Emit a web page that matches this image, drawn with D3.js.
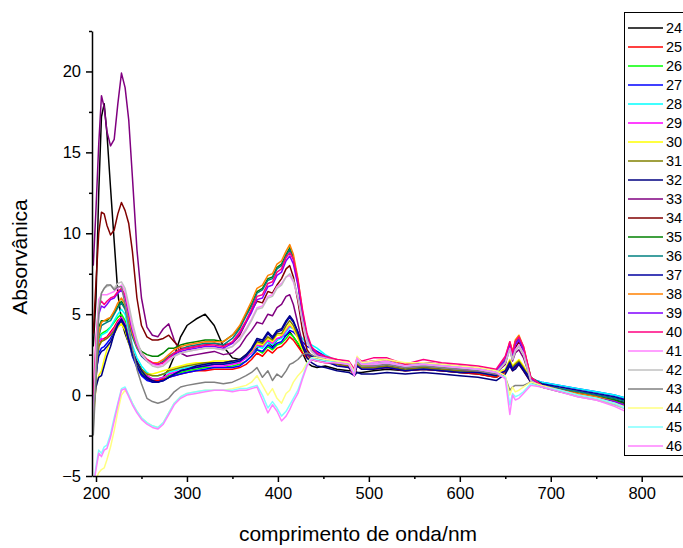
<!DOCTYPE html>
<html>
<head>
<meta charset="utf-8">
<script src="https://cdn.jsdelivr.net/npm/d3@7"></script>
<style>
  body { margin: 0; background: #fff; }
  text { font-family: "Liberation Sans", Arial, sans-serif; fill: #000; }
</style>
</head>
<body>
<svg id="chart" width="683" height="548"></svg>
<script>
// wavelength grid (nm) shared by every spectrum
const wavelengths = [197,200,203,206,209,212,216,220,224,228,232,236,240,245,250,256,262,268,274,280,
  286,293,300,310,320,330,340,350,358,365,371,377,383,389,394,399,404,409,413,417,
  422,427,432,437,443,452,465,478,484,487,492,505,520,540,560,580,600,620,640,650,
  655,658,661,665,670,678,690,710,730,750,770,790,820,850];

const seriesNames = ['24','25','26','27','28','29','30','31','32','33','34','35','36','37','38','39','40','41','42','43','44','45','46'];
const palette = ['#000000','#FF0000','#00FF00','#0000FF','#00FFFF','#FF00FF','#FFFF00','#808000','#000080','#800080','#800000','#008000','#008080','#0000A0','#FF8000','#8000FF','#FF0080','#FF80FF','#C0C0C0','#808080','#FFFF80','#80FFFF','#FF80FF'];

const s24 = [3.0,6.0,12.5,17.2,18.0,16.2,12.8,9.5,6.3,4.6,3.8,3.2,2.7,2.1,1.6,1.2,0.9,0.8,1.1,1.6,
  2.4,3.6,4.3,4.7,5.0,4.3,3.0,2.3,2.2,2.4,2.6,2.9,3.1,3.3,3.0,3.4,3.6,3.7,3.9,3.6,
  3.2,2.6,2.0,1.8,1.7,1.8,1.6,1.5,1.5,1.4,1.4,1.5,1.6,1.5,1.6,1.5,1.4,1.3,1.1,1.5,
  2.0,1.7,1.8,2.0,1.6,0.9,0.6,0.4,0.2,0.0,-0.2,-0.4,-0.7,-0.9];
const s25 = [-1.5,1.0,3.0,3.4,3.5,3.6,3.9,4.2,4.6,4.8,4.4,3.4,2.5,1.8,1.3,1.0,0.9,0.9,1.0,1.1,
  1.2,1.3,1.4,1.5,1.5,1.6,1.6,1.6,1.7,1.9,2.2,2.6,2.4,2.8,2.6,2.9,3.0,3.3,3.6,3.4,
  3.0,2.6,2.3,2.2,2.1,2.0,1.9,1.7,1.2,1.8,1.6,1.6,1.7,1.5,1.6,1.5,1.4,1.3,1.1,1.4,
  1.9,1.5,1.7,1.9,1.5,0.8,0.5,0.3,0.0,-0.2,-0.4,-0.7,-1.1,-1.4];
const s26 = [-1.0,1.6,3.5,3.8,3.9,4.0,4.2,4.5,4.8,5.0,4.6,3.6,2.7,1.9,1.4,1.1,1.0,1.0,1.1,1.2,
  1.3,1.4,1.5,1.6,1.7,1.7,1.7,1.8,1.9,2.1,2.4,2.8,2.6,3.0,2.8,3.1,3.2,3.5,3.8,3.6,
  3.2,2.8,2.5,2.4,2.3,2.2,2.0,1.8,1.3,1.9,1.7,1.7,1.8,1.6,1.7,1.6,1.5,1.4,1.2,1.5,
  2.0,1.6,1.8,2.0,1.6,0.9,0.6,0.4,0.1,-0.1,-0.3,-0.6,-1.0,-1.3];
const s27 = [-1.2,1.2,2.6,2.9,3.0,3.2,3.5,3.9,4.4,4.7,4.3,3.3,2.4,1.7,1.2,0.9,0.8,0.8,0.9,1.1,
  1.2,1.3,1.4,1.5,1.6,1.7,1.7,1.7,1.8,2.1,2.4,2.8,2.7,3.1,2.9,3.2,3.3,3.7,4.0,3.9,
  3.6,3.3,3.0,2.9,2.7,2.4,2.0,1.8,1.3,1.9,1.7,1.7,1.8,1.6,1.7,1.6,1.5,1.5,1.3,1.5,
  2.0,1.6,1.8,2.0,1.6,1.0,0.8,0.6,0.4,0.2,0.0,-0.3,-0.6,-0.9];
const s28 = [0.6,1.5,3.2,3.7,3.8,3.9,4.2,4.6,5.0,5.3,5.0,4.0,3.1,2.3,1.8,1.4,1.2,1.2,1.3,1.4,
  1.5,1.6,1.7,1.8,1.9,1.9,1.9,2.0,2.1,2.3,2.6,3.0,2.9,3.3,3.1,3.4,3.5,3.9,4.2,4.1,
  3.8,3.5,3.2,3.1,2.9,2.5,2.1,1.9,1.4,2.0,1.8,1.8,1.9,1.7,1.8,1.7,1.6,1.6,1.4,1.6,
  2.1,1.7,1.9,2.1,1.7,1.0,0.8,0.6,0.4,0.2,0.0,-0.3,-0.6,-0.9];
const s29 = [-0.8,1.8,3.3,3.5,3.4,3.5,3.8,4.1,4.5,4.8,4.4,3.5,2.7,2.0,1.5,1.2,1.0,1.0,1.1,1.3,
  1.4,1.5,1.6,1.7,1.8,1.8,1.8,1.9,2.0,2.3,2.6,3.1,3.0,3.4,3.2,3.5,3.6,4.0,4.3,4.1,
  3.6,3.0,2.6,2.4,2.3,2.1,1.9,1.8,1.3,2.0,1.7,1.8,1.9,1.7,1.8,1.7,1.6,1.5,1.3,1.5,
  2.1,1.7,1.9,2.1,1.7,0.9,0.6,0.3,0.1,-0.1,-0.4,-0.7,-1.0,-1.3];
const s30 = [-1.5,0.5,1.2,1.5,2.2,2.8,3.3,3.8,4.2,4.4,4.0,3.2,2.5,1.9,1.5,1.3,1.3,1.4,1.5,1.6,
  1.7,1.8,1.9,2.0,2.0,2.1,2.1,2.1,2.2,2.4,2.7,3.2,3.1,3.5,3.3,3.7,3.7,4.1,4.4,4.1,
  3.5,2.8,2.4,2.2,2.1,2.1,2.0,1.9,1.4,2.0,1.8,1.9,2.0,1.8,1.9,1.8,1.7,1.6,1.4,1.6,
  2.2,1.8,2.0,2.2,1.8,1.0,0.7,0.4,0.2,-0.1,-0.3,-0.7,-1.0,-1.3];
const s31 = [-1.0,1.5,3.0,3.3,3.4,3.5,3.7,4.0,4.4,4.6,4.2,3.3,2.6,2.0,1.6,1.3,1.2,1.2,1.3,1.5,
  1.6,1.7,1.8,1.9,2.0,2.0,2.0,2.1,2.2,2.5,2.8,3.3,3.2,3.6,3.4,3.8,3.8,4.3,4.6,4.3,
  3.7,3.0,2.5,2.3,2.2,2.1,1.9,1.8,1.3,1.9,1.7,1.7,1.8,1.6,1.7,1.6,1.5,1.4,1.2,1.5,
  2.1,1.7,1.9,2.1,1.7,0.9,0.6,0.4,0.1,-0.1,-0.3,-0.6,-1.0,-1.3];
const s32 = [-1.0,0.5,1.1,1.2,1.8,2.4,3.0,3.8,4.4,4.7,4.3,3.4,2.7,2.0,1.5,1.1,0.9,0.8,0.9,1.1,
  1.3,1.5,1.6,1.8,1.9,2.0,2.0,2.1,2.2,2.5,2.9,3.5,3.4,3.9,3.6,4.0,4.1,4.6,4.9,4.6,
  3.9,3.0,2.3,2.0,1.8,1.7,1.5,1.4,1.2,1.4,1.3,1.3,1.4,1.3,1.4,1.3,1.2,1.1,0.9,1.3,
  1.8,1.5,1.6,1.9,1.5,0.8,0.5,0.3,0.1,-0.1,-0.3,-0.6,-0.9,-1.2];
const s33 = [8.0,11.5,15.5,18.5,17.8,16.3,15.4,15.8,18.0,19.9,19.0,17.0,13.5,9.0,6.0,4.2,3.7,3.6,4.1,4.4,
  3.4,2.6,2.4,2.5,2.6,2.7,2.5,2.6,3.0,3.6,4.0,4.5,4.4,5.0,4.9,5.4,5.6,6.1,6.2,5.6,
  4.4,3.2,2.5,2.2,2.1,2.1,2.0,1.9,1.3,2.2,1.9,1.9,2.0,1.8,1.9,1.8,1.7,1.6,1.4,1.9,
  2.9,2.1,2.6,2.8,2.3,1.0,0.6,0.3,0.1,-0.1,-0.4,-0.7,-1.0,-1.3];
const s34 = [3.8,7.0,10.0,11.3,11.2,10.5,9.9,10.2,11.2,11.9,11.4,10.6,8.9,6.0,4.3,3.6,3.4,3.4,3.5,3.7,
  3.3,2.9,2.9,3.0,3.1,3.2,3.1,3.2,3.7,4.5,5.2,5.8,5.7,6.4,6.3,6.8,7.2,7.8,8.0,7.3,
  5.8,4.0,2.8,2.4,2.2,2.1,2.0,1.9,1.4,2.2,1.9,2.0,2.1,1.8,2.0,1.9,1.7,1.6,1.4,2.0,
  3.0,2.3,2.9,3.3,2.7,1.0,0.6,0.3,0.1,-0.1,-0.4,-0.8,-1.1,-1.4];
const s35 = [-0.5,2.0,4.2,4.6,4.6,4.6,4.8,5.1,5.5,5.8,5.4,4.6,3.8,3.1,2.7,2.5,2.4,2.4,2.6,2.9,
  2.9,3.1,3.2,3.3,3.4,3.4,3.3,3.7,4.2,5.0,5.6,6.4,6.6,7.2,7.3,7.9,8.1,8.7,9.1,8.5,
  7.0,5.0,3.5,2.8,2.4,2.2,2.1,1.9,1.5,2.2,1.9,2.0,2.1,1.8,1.9,1.8,1.7,1.6,1.4,2.2,
  3.2,2.6,3.3,3.6,2.9,1.1,0.6,0.3,0.1,-0.1,-0.3,-0.7,-1.0,-1.3];
const s36 = [-1.0,1.0,3.6,4.3,4.4,4.5,4.6,5.0,5.4,5.7,5.3,4.4,3.6,2.9,2.4,2.1,1.9,1.9,2.1,2.4,
  2.6,2.8,3.0,3.1,3.2,3.2,3.1,3.5,4.1,4.9,5.5,6.3,6.5,7.1,7.2,7.8,8.0,8.6,9.0,8.4,
  6.9,5.0,3.6,2.9,2.5,2.3,2.1,1.9,1.4,2.2,1.9,1.9,2.0,1.8,1.9,1.8,1.7,1.6,1.5,2.1,
  3.1,2.5,3.2,3.5,2.8,1.1,0.7,0.4,0.2,0.0,-0.2,-0.5,-0.8,-1.1];
const s37 = [-0.5,1.5,2.4,2.7,2.8,3.0,3.3,3.8,4.3,4.6,4.2,3.3,2.5,1.8,1.3,1.0,0.8,0.8,0.9,1.1,
  1.3,1.5,1.6,1.7,1.8,1.9,1.9,2.0,2.1,2.4,2.8,3.4,3.3,3.8,3.5,3.9,4.0,4.5,4.8,4.5,
  3.9,3.1,2.6,2.4,2.3,2.1,1.8,1.7,1.3,1.8,1.6,1.6,1.7,1.5,1.6,1.5,1.4,1.4,1.2,1.5,
  2.0,1.6,1.8,2.0,1.6,1.0,0.7,0.5,0.3,0.1,-0.1,-0.4,-0.7,-1.0];
const s38 = [-1.0,1.5,3.8,4.5,4.6,4.7,4.8,5.2,5.7,6.0,5.6,4.7,3.8,3.0,2.5,2.2,2.0,2.0,2.2,2.5,
  2.8,3.0,3.1,3.2,3.3,3.3,3.3,3.7,4.3,5.1,5.8,6.6,6.8,7.4,7.5,8.1,8.3,8.9,9.3,8.7,
  7.2,5.2,3.6,2.9,2.5,2.3,2.2,2.0,1.5,2.3,2.0,2.1,2.2,1.9,2.0,1.9,1.8,1.7,1.5,2.3,
  3.3,2.7,3.4,3.7,3.0,1.1,0.6,0.3,0.1,-0.1,-0.4,-0.8,-1.1,-1.4];
const s39 = [-1.0,2.5,5.0,5.5,5.4,5.6,5.9,6.0,6.3,6.5,6.0,5.0,4.0,3.1,2.5,2.1,1.9,1.9,2.0,2.3,
  2.5,2.7,2.8,2.9,3.0,3.0,2.9,3.2,3.8,4.5,5.1,5.9,6.0,6.7,6.8,7.4,7.6,8.3,8.6,8.1,
  6.8,5.0,3.6,2.9,2.5,2.3,2.1,2.0,1.5,2.2,2.0,2.1,2.1,1.8,2.0,1.9,1.8,1.7,1.5,2.2,
  3.1,2.5,3.1,3.4,2.8,1.0,0.6,0.3,0.0,-0.2,-0.4,-0.8,-1.1,-1.4];
const s40 = [0.0,3.5,5.5,5.8,5.6,5.8,6.0,6.1,6.4,6.6,6.2,5.2,4.2,3.2,2.6,2.2,2.0,1.9,2.0,2.3,
  2.6,2.8,2.9,3.0,3.1,3.1,3.0,3.3,3.9,4.6,5.3,6.1,6.2,6.9,7.0,7.6,7.8,8.5,8.8,8.4,
  7.1,5.3,3.8,3.0,2.6,2.4,2.2,2.1,1.6,2.3,2.1,2.3,2.3,1.9,2.2,2.0,1.9,1.8,1.6,2.4,
  3.3,2.6,3.3,3.6,3.0,1.1,0.6,0.3,0.0,-0.2,-0.5,-0.9,-1.2,-1.5];
const s41 = [-1.5,3.0,5.9,6.2,6.2,6.2,6.3,6.4,6.6,6.8,6.4,5.3,4.2,3.2,2.5,2.1,1.9,1.8,1.9,2.2,
  2.4,2.6,2.7,2.8,2.9,2.9,2.8,3.0,3.5,4.1,4.7,5.4,5.5,6.1,6.2,6.7,6.9,7.3,7.4,7.0,
  6.0,4.5,3.3,2.7,2.4,2.3,2.1,2.0,1.5,2.2,2.0,2.0,2.1,1.8,1.9,1.8,1.7,1.6,1.4,2.0,
  2.9,2.2,2.8,3.1,2.6,0.9,0.5,0.2,-0.1,-0.3,-0.6,-1.0,-1.3,-1.6];
const s42 = [-2.0,2.0,5.5,6.3,6.6,6.7,6.8,6.6,6.9,7.0,6.6,5.6,4.5,3.4,2.6,2.1,1.8,1.7,1.8,2.1,
  2.4,2.6,2.7,2.8,2.9,2.9,2.8,3.0,3.4,4.0,4.6,5.3,5.4,6.0,6.1,6.6,6.8,7.3,7.5,7.1,
  6.1,4.6,3.4,2.7,2.4,2.2,2.1,2.0,1.4,2.1,1.9,1.9,2.0,1.8,1.9,1.8,1.7,1.6,1.4,2.0,
  2.8,2.2,2.7,3.0,2.5,0.9,0.5,0.2,-0.1,-0.3,-0.6,-1.0,-1.3,-1.6];
const s43 = [-2.5,1.0,5.0,6.3,6.6,6.8,6.8,6.5,6.7,6.7,5.6,4.2,2.9,1.6,0.7,-0.2,-0.4,-0.5,-0.4,-0.2,
  0.2,0.5,0.6,0.7,0.8,0.8,0.7,0.8,1.0,1.2,1.4,1.7,1.1,1.5,0.9,1.3,1.1,1.5,1.9,2.0,
  2.2,2.5,2.6,2.5,2.3,2.2,2.0,1.9,1.3,2.1,1.8,1.8,1.9,1.7,1.8,1.7,1.6,1.5,1.3,1.1,
  0.3,0.5,0.6,0.6,0.6,0.8,0.5,0.2,0.0,-0.2,-0.5,-0.9,-1.2,-1.5];
const s44 = [-5.6,-5.2,-4.8,-4.6,-4.5,-4.0,-3.2,-2.2,-1.0,0.0,0.3,0.0,-0.5,-1.0,-1.4,-1.7,-1.9,-2.0,-1.7,-1.1,
  -0.5,-0.1,0.1,0.2,0.3,0.3,0.3,0.4,0.5,0.6,0.8,1.2,0.6,0.0,0.4,-0.2,-0.5,0.1,0.3,0.8,
  1.2,1.5,2.0,2.3,2.3,2.2,2.1,2.0,1.4,2.4,2.0,2.1,2.2,2.0,2.0,1.9,1.8,1.7,1.5,1.2,
  0.0,0.5,0.2,0.3,0.5,0.8,0.6,0.3,0.0,-0.2,-0.5,-0.9,-1.3,-1.6];
const s45 = [-5.6,-4.4,-3.4,-3.6,-3.2,-3.1,-2.4,-1.4,-0.5,0.4,0.5,0.0,-0.5,-1.0,-1.4,-1.7,-1.9,-2.0,-1.7,-1.1,
  -0.5,-0.1,0.1,0.2,0.3,0.3,0.3,0.3,0.4,0.4,0.5,0.6,0.0,-0.8,-0.4,-0.8,-1.3,-1.0,-0.6,-0.2,
  0.3,1.1,1.9,2.3,2.2,2.1,2.0,1.9,1.3,2.2,1.9,1.9,2.0,1.8,1.9,1.8,1.7,1.6,1.4,1.1,
  -0.6,0.1,-0.1,0.0,0.2,0.7,0.5,0.3,0.0,-0.2,-0.5,-1.0,-1.4,-1.7];
const s46 = [-5.6,-4.6,-3.6,-3.8,-3.4,-3.3,-2.6,-1.6,-0.6,0.3,0.4,-0.1,-0.6,-1.1,-1.5,-1.8,-2.0,-2.1,-1.8,-1.2,
  -0.6,-0.2,0.0,0.1,0.2,0.3,0.3,0.2,0.3,0.3,0.4,0.5,-0.3,-1.1,-0.6,-1.0,-1.6,-1.3,-0.9,-0.4,
  0.1,1.0,1.8,2.2,2.1,2.0,2.0,1.9,1.2,2.3,1.9,1.9,2.0,1.8,1.9,1.8,1.7,1.6,1.4,1.0,
  -1.2,0.0,-0.3,-0.2,0.1,0.6,0.5,0.2,-0.1,-0.3,-0.7,-1.2,-1.6,-1.9];

const allSeries = [s24,s25,s26,s27,s28,s29,s30,s31,s32,s33,s34,s35,s36,s37,s38,s39,s40,s41,s42,s43,s44,s45,s46];

const xMajor = [200,300,400,500,600,700,800];
const xMinor = [250,350,450,550,650,750,850];
const yMajor = [-5,0,5,10,15,20];
const yMinor = [-2.5,2.5,7.5,12.5,17.5,22.5];

const svg = d3.select('#chart');
const plotLeft = 92, plotRight = 683, plotTop = 31, plotBottom = 476;

const x = d3.scaleLinear().domain([195.6, 845.4]).range([plotLeft, plotRight]);
const y = d3.scaleLinear().domain([-5, 22.5]).range([plotBottom, plotTop]);

svg.append('clipPath').attr('id', 'plot')
  .append('rect').attr('x', plotLeft).attr('y', 0).attr('width', plotRight - plotLeft).attr('height', plotBottom);

let line = d3.line()
  .x((d) => x(d[0]))
  .y((d) => y(d[1]));

let plot = svg.append('g').attr('clip-path', 'url(#plot)');
allSeries.forEach((vals, idx) => {
  plot.append('path')
    .datum(wavelengths.map((w, i) => [w, vals[i]]))
    .attr('d', line)
    .attr('fill', 'none')
    .attr('stroke', palette[idx])
    .attr('stroke-width', 1.5)
    .attr('stroke-linejoin', 'round');
});

// x axis: major + minor ticks
let xAxis = svg.append('g').attr('transform', `translate(0,${plotBottom})`);
xAxis.call(d3.axisBottom(x).tickValues(xMajor).tickSize(6).tickSizeOuter(0).tickPadding(5));
xAxis.append('g').call(d3.axisBottom(x).tickValues(xMinor).tickSize(3).tickFormat(''))
  .select('.domain').remove();

// y axis
let yAxis = svg.append('g').attr('transform', `translate(${plotLeft},0)`);
yAxis.call(d3.axisLeft(y).tickValues(yMajor).tickSize(6).tickSizeOuter(0).tickPadding(5));
yAxis.append('g').call(d3.axisLeft(y).tickValues(yMinor).tickSize(3).tickFormat(''))
  .select('.domain').remove();

svg.selectAll('.domain, .tick line').attr('stroke', '#000').attr('stroke-width', 1.5);
svg.selectAll('.tick text').attr('font-size', 16.5).attr('font-family', '"Liberation Sans", Arial, sans-serif');

svg.append('text')
  .attr('x', 358).attr('y', 541)
  .attr('text-anchor', 'middle')
  .attr('font-size', 21)
  .text('comprimento de onda/nm');

svg.append('text')
  .attr('transform', 'translate(27,257) rotate(-90)')
  .attr('text-anchor', 'middle')
  .attr('font-size', 21)
  .text('Absorvânica');

// legend
let legend = svg.append('g');
legend.append('rect')
  .attr('x', 624.5).attr('y', 12.5).attr('width', 70).attr('height', 443)
  .attr('fill', '#fff').attr('stroke', '#000').attr('stroke-width', 1);
seriesNames.forEach((name, idx) => {
  let ly = 28 + idx * 19;
  legend.append('line')
    .attr('x1', 628).attr('x2', 663).attr('y1', ly).attr('y2', ly)
    .attr('stroke', palette[idx]).attr('stroke-width', 1.5);
  legend.append('text')
    .attr('x', 666).attr('y', ly).attr('dy', '0.35em')
    .attr('font-size', 14.5)
    .text(name);
});
</script>
</body>
</html>
